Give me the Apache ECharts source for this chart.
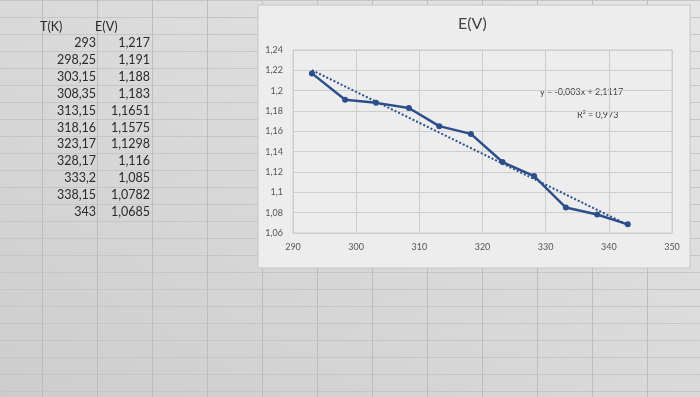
<!DOCTYPE html>
<html>
<head>
<meta charset="utf-8">
<script src="https://cdn.jsdelivr.net/npm/echarts@6/dist/echarts.min.js"></script>
<style>
html, body { margin: 0; padding: 0; }
#main {
  width: 700px; height: 397px;
  background-color: #dcdcdc;
  background-image:
    linear-gradient(to right, #bdbdbd 1px, transparent 1px),
    linear-gradient(to bottom, #c6c6c6 1px, transparent 1px),
    linear-gradient(to top right, #cdcdcd, #e6e6e6);
  background-size: 55px 100%, 100% 17px, 100% 100%;
  background-position: 42px 0, 0 0, 0 0;
}
</style>
</head>
<body>
<div id="main"></div>
<script>
// data read from the sheet
var T = [293, 298.25, 303.15, 308.35, 313.15, 318.16, 323.17, 328.17, 333.2, 338.15, 343];
var E = [1.217, 1.191, 1.188, 1.183, 1.1651, 1.1575, 1.1298, 1.116, 1.085, 1.0782, 1.0685];
var trendText = ['y = -0,003x + 2,1117', 'R\u00b2 = 0,973'];

function comma(v) { return String(v).replace('.', ','); }

// least squares trend line
var n = T.length, mx = 0, my = 0;
for (var i = 0; i < n; i++) { mx += T[i]; my += E[i]; }
mx /= n; my /= n;
var sxx = 0, sxy = 0;
for (var i = 0; i < n; i++) { sxx += (T[i] - mx) * (T[i] - mx); sxy += (T[i] - mx) * (E[i] - my); }
var slope = sxy / sxx, icpt = my - slope * mx;
var tMin = Math.min.apply(null, T), tMax = Math.max.apply(null, T);
var trend = [[tMin, slope * tMin + icpt], [tMax, slope * tMax + icpt]];

var pts = T.map(function (t, i) { return [t, E[i]]; });

var font = 'Lato, "Noto Sans", sans-serif';
var graphics = [
  { type: 'rect', z: -10, shape: { x: 258, y: 5, width: 432, height: 263 },
    style: { fill: '#ededed', stroke: '#c6c6c6', lineWidth: 1 } },
  { type: 'text', x: 40, y: 27, style: { text: 'T(K)', font: '12.5px ' + font, fill: '#2a2a2a', verticalAlign: 'middle' } },
  { type: 'text', x: 95, y: 27, style: { text: 'E(V)', font: '12.5px ' + font, fill: '#2a2a2a', verticalAlign: 'middle' } },
  { type: 'text', x: 540, y: 92, style: { text: trendText[0], font: '9px ' + font, fill: '#444', verticalAlign: 'middle' } },
  { type: 'text', x: 577, y: 115, style: { text: trendText[1], font: '9px ' + font, fill: '#444', verticalAlign: 'middle' } }
];
T.forEach(function (t, i) {
  var y = 43 + i * 16.9;
  graphics.push({ type: 'text', x: 96, y: y,
    style: { text: comma(t), font: '12.5px ' + font, fill: '#2a2a2a', align: 'right', verticalAlign: 'middle' } });
  graphics.push({ type: 'text', x: 150, y: y,
    style: { text: comma(E[i]), font: '12.5px ' + font, fill: '#2a2a2a', align: 'right', verticalAlign: 'middle' } });
});

var myChart = echarts.init(document.getElementById('main'));
var option = {
  backgroundColor: 'transparent',
  animation: false,
  textStyle: { fontFamily: font },
  title: {
    text: 'E(V)', left: 453, top: 11,
    textStyle: { fontSize: 16, fontWeight: 'normal', color: '#444', fontFamily: font }
  },
  graphic: graphics,
  grid: {
    left: 293, right: 28, top: 50, bottom: 164,
    show: true, borderColor: '#cdcdcd', borderWidth: 1
  },
  xAxis: {
    type: 'value', min: 290, max: 350, interval: 10,
    axisLine: { show: false }, axisTick: { show: false },
    axisLabel: { color: '#555', fontSize: 9, margin: 10 },
    splitLine: { lineStyle: { color: '#cdcdcd', width: 1 } }
  },
  yAxis: {
    type: 'value', min: 1.06, max: 1.24, interval: 0.02,
    axisLine: { show: false }, axisTick: { show: false },
    axisLabel: { color: '#555', fontSize: 9, margin: 10,
      formatter: function (v) { return comma(+v.toFixed(2)); } },
    splitLine: { lineStyle: { color: '#cdcdcd', width: 1 } }
  },
  series: [
    {
      name: 'E(V)', type: 'line', data: pts, z: 3,
      symbol: 'circle', symbolSize: 6,
      lineStyle: { color: '#2c4f8c', width: 2.5 },
      itemStyle: { color: '#2c4f8c' }
    },
    {
      name: 'trend', type: 'line', data: trend, z: 2,
      symbol: 'none',
      lineStyle: { color: '#2c4f8c', width: 2, type: 'dotted' }
    }
  ]
};
myChart.setOption(option);
</script>
</body>
</html>
